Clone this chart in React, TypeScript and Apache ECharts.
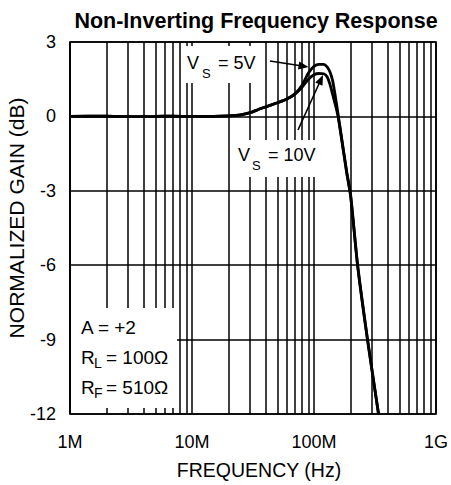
import React, { useEffect, useRef } from "react";
import * as echarts from "echarts";

// Frequency (MHz) and normalized gain (dB)
const freq5V = [1, 2, 3, 5, 7, 10, 15, 20, 25, 30, 35, 40, 50, 60, 70, 80, 90, 100, 110, 120, 128, 135, 142, 148, 153, 158, 170, 185, 200, 228, 275, 338];
const gain5V = [0, 0.01, -0.01, 0, 0.01, 0, 0, 0.02, 0.06, 0.15, 0.28, 0.38, 0.55, 0.7, 0.92, 1.27, 1.75, 2.02, 2.1, 2.1, 2.0, 1.8, 1.45, 0.95, 0.5, 0.05, -1.0, -2.2, -3.2, -6.0, -9.0, -12.0];

const freq10V = [1, 2, 3, 5, 7, 10, 15, 20, 25, 30, 35, 40, 50, 60, 70, 80, 90, 100, 110, 120, 128, 135, 142, 148, 153, 158, 170, 185, 200, 228, 275, 338];
const gain10V = [0, 0.01, -0.01, 0, 0.01, 0, 0, 0.02, 0.06, 0.15, 0.28, 0.38, 0.55, 0.7, 0.9, 1.18, 1.5, 1.68, 1.73, 1.72, 1.6, 1.3, 0.9, 0.55, 0.28, -0.05, -1.05, -2.25, -3.25, -6.05, -9.05, -12.0];

// Axis ticks
const xTickValues = [1e6, 1e7, 1e8, 1e9];
const xTickLabels = ["1M", "10M", "100M", "1G"];
const yTicks = [-12, -9, -6, -3, 0, 3];

// Minor vertical grid lines (Hz)
const minorGridHz = [
  2e6, 3e6, 4e6, 5e6, 6e6, 7e6, 8e6, 9e6,
  2e7, 3e7, 4e7, 5e7, 6e7, 7e7, 8e7, 9e7,
  2e8, 3e8, 4e8, 5e8, 6e8, 7e8, 8e8, 9e8,
];

const FONT = "'Liberation Sans', Arial, Helvetica, sans-serif";

function txt(x: number, y: number, text: string, size: number) {
  return {
    type: "text",
    x,
    y,
    z: 20,
    silent: true,
    style: {
      text,
      fill: "#000",
      font: `${size}px ${FONT}`,
      align: "left",
      verticalAlign: "middle",
    },
  };
}

function arrow(x1: number, y1: number, x2: number, y2: number) {
  const dx = x2 - x1;
  const dy = y2 - y1;
  const len = Math.sqrt(dx * dx + dy * dy);
  const ux = dx / len;
  const uy = dy / len;
  const hl = 10;
  const hw = 4;
  const bx = x2 - ux * hl;
  const by = y2 - uy * hl;
  const nx = -uy;
  const ny = ux;
  return [
    {
      type: "line",
      z: 20,
      silent: true,
      shape: { x1, y1, x2: bx + ux * 2, y2: by + uy * 2 },
      style: { stroke: "#000", lineWidth: 1.6 },
    },
    {
      type: "polygon",
      z: 20,
      silent: true,
      shape: {
        points: [
          [x2, y2],
          [bx + nx * hw, by + ny * hw],
          [bx - nx * hw, by - ny * hw],
        ],
      },
      style: { fill: "#000" },
    },
  ];
}

export default function App() {
  const ref = useRef<HTMLDivElement>(null);

  useEffect(() => {
    if (!ref.current) return;
    const chart = echarts.init(ref.current, null, { renderer: "svg" });

    const data5 = freq5V.map((f, i) => [f * 1e6, gain5V[i]]);
    const data10 = freq10V.map((f, i) => [f * 1e6, gain10V[i]]);

    chart.setOption({
      animation: false,
      backgroundColor: "#fff",
      textStyle: { fontFamily: FONT },
      title: {
        text: "Non-Inverting Frequency Response",
        left: 251,
        top: 5,
        textAlign: "center",
        textStyle: { fontFamily: FONT, fontWeight: "bold", fontSize: 21.5, color: "#000" },
      },
      grid: {
        left: 70,
        top: 42,
        right: 12,
        bottom: 71,
        show: true,
        borderColor: "#000",
        borderWidth: 1.7,
        backgroundColor: "transparent",
      },
      xAxis: {
        type: "log",
        logBase: 10,
        min: 1e6,
        max: 1e9,
        name: "FREQUENCY (Hz)",
        nameLocation: "middle",
        nameGap: 46,
        nameTextStyle: { fontFamily: FONT, fontSize: 19.5, color: "#000", padding: [0, 0, 0, 12] },
        axisLine: { show: false },
        axisTick: { show: false },
        axisLabel: {
          fontFamily: FONT,
          fontSize: 18,
          color: "#000",
          margin: 19,
          formatter: (v: number) => {
            let best = 0;
            for (let i = 0; i < xTickValues.length; i++) {
              if (Math.abs(Math.log10(v) - Math.log10(xTickValues[i])) < Math.abs(Math.log10(v) - Math.log10(xTickValues[best]))) best = i;
            }
            return xTickLabels[best];
          },
        },
        splitLine: { show: true, lineStyle: { color: "#000", width: 1.5 } },
      },
      yAxis: {
        type: "value",
        min: yTicks[0],
        max: yTicks[yTicks.length - 1],
        interval: 3,
        axisLine: { show: false },
        axisTick: { show: false },
        axisLabel: { fontFamily: FONT, fontSize: 18, color: "#000", margin: 14 },
        splitLine: { show: true, lineStyle: { color: "#000", width: 1.5 } },
      },
      series: [
        {
          type: "line",
          name: "grid",
          z: 1,
          data: [],
          silent: true,
          markLine: {
            silent: true,
            symbol: ["none", "none"],
            label: { show: false },
            lineStyle: { color: "#000", width: 1.5, type: "solid" },
            data: minorGridHz.map((v) => ({ xAxis: v })),
          },
        },
        {
          type: "line",
          name: "VS = 10V",
          z: 3,
          data: data10,
          showSymbol: false,
          smooth: 0.2,
          lineStyle: { color: "#000", width: 2.8 },
        },
        {
          type: "line",
          name: "VS = 5V",
          z: 3,
          data: data5,
          showSymbol: false,
          smooth: 0.2,
          lineStyle: { color: "#000", width: 2.8 },
        },
      ],
      graphic: [
        // y axis title
        {
          type: "text",
          x: 17,
          y: 218,
          rotation: Math.PI / 2,
          scaleX: 1.08,
          z: 20,
          silent: true,
          style: {
            text: "NORMALIZED GAIN (dB)",
            fill: "#000",
            font: `19.5px ${FONT}`,
            align: "center",
            verticalAlign: "middle",
          },
        },
        // label boxes
        { type: "rect", z: 10, silent: true, shape: { x: 185, y: 46, width: 79, height: 37 }, style: { fill: "#fff" } },
        { type: "rect", z: 10, silent: true, shape: { x: 235, y: 140, width: 86, height: 37 }, style: { fill: "#fff" } },
        { type: "rect", z: 10, silent: true, shape: { x: 71, y: 308, width: 106, height: 100 }, style: { fill: "#fff" } },
        // VS = 5V
        txt(187, 63, "V", 18),
        txt(202, 73.5, "S", 13),
        txt(218, 63, "= 5V", 18),
        // VS = 10V
        txt(238, 154.5, "V", 18),
        txt(252, 165, "S", 13),
        txt(268, 154.5, "= 10V", 18),
        // legend
        txt(81, 327.5, "A = +2", 19),
        txt(81, 357, "R", 19),
        txt(94, 363, "L", 14),
        txt(106, 357, "= 100Ω", 19),
        txt(81, 387, "R", 19),
        txt(94, 393, "F", 14),
        txt(106, 387, "= 510Ω", 19),
        ...arrow(270, 61, 308.5, 67),
        ...arrow(298, 130, 323, 75),
      ],
    });

    return () => chart.dispose();
  }, []);

  return (
    <div
      ref={ref}
      style={{ position: "fixed", left: 0, top: 0, width: 451, height: 485 }}
    />
  );
}
